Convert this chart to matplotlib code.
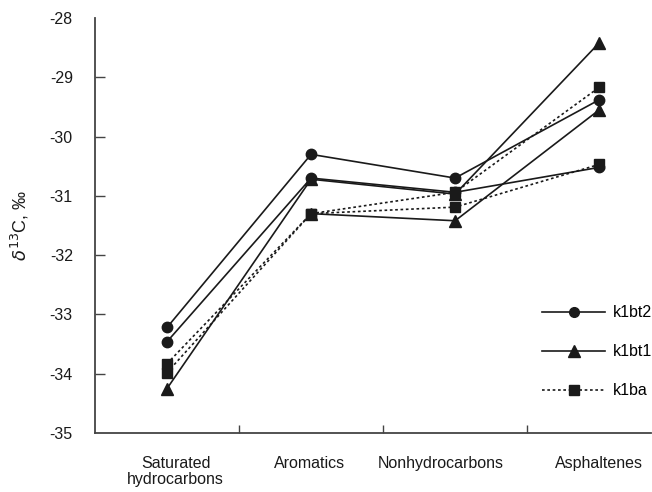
import numpy as np
import matplotlib
matplotlib.use("Agg")
import matplotlib.pyplot as plt
from matplotlib.lines import Line2D

plt.rcParams['font.family'] = ['Liberation Sans', 'DejaVu Sans']
plt.rcParams['mathtext.fontset'] = 'dejavusans'

categories = ['Saturated\nhydrocarbons', 'Aromatics', 'Nonhydrocarbons', 'Asphaltenes']

# two samples per group, NaN where the point is not plotted
k1bt2_a = [-33.22, -30.30, -30.70, -29.38]
k1bt2_b = [-33.46, -30.70, -30.94, -30.52]
k1bt1_a = [-34.25, -30.72, -30.97, -28.42]
k1bt1_b = [np.nan, -31.30, -31.42, -29.55]
k1ba_a = [-33.83, -31.30, -30.94, -29.17]
k1ba_b = [-33.98, -31.30, -31.19, -30.47]

yticks = [-35, -34, -33, -32, -31, -30, -29, -28]

INK = '#1a1a1a'
DOTS = (0, (1.6, 1.6))
FS = 11.5

x = np.arange(len(categories))

fig = plt.figure(figsize=(6.52, 4.92), dpi=100)
ax = fig.add_axes([95 / 652, 1 - 433 / 492, 556 / 652, 415 / 492])

style = dict(color=INK, lw=1.2, clip_on=False)
ax.plot(x, k1bt2_a, marker='o', ms=7.5, ls='-', **style)
ax.plot(x, k1bt2_b, marker='o', ms=7.5, ls='-', **style)
ax.plot(x, k1bt1_a, marker='^', ms=9, ls='-', **style)
ax.plot(x, k1bt1_b, marker='^', ms=9, ls='-', **style)
ax.plot(x, k1ba_a, marker='s', ms=7, ls=DOTS, **style)
ax.plot(x, k1ba_b, marker='s', ms=7, ls=DOTS, **style)

ax.set_xlim(-0.5, 3.36)
ax.set_ylim(-35, -28)

for side in ['top', 'right']:
    ax.spines[side].set_visible(False)
for side in ['left', 'bottom']:
    ax.spines[side].set_color('#444444')
    ax.spines[side].set_linewidth(1.3)

ax.set_yticks(yticks)
ax.set_yticklabels([str(v) for v in yticks])
ax.tick_params(axis='y', direction='in', length=7, width=1, color='#444444',
               pad=16, labelsize=FS, labelcolor=INK)
ax.yaxis.get_major_ticks()[-1].tick1line.set_visible(False)
ax.yaxis.get_major_ticks()[0].tick1line.set_visible(False)

ax.set_xticks(x[:-1] + 0.5)
ax.set_xticklabels([])
ax.tick_params(axis='x', direction='in', length=6, width=1, color='#444444')

label_pos = [0.06, 0.99, 1.9, 3.0]
for pos, name in zip(label_pos, categories):
    ax.text(pos, -0.055, name, transform=ax.get_xaxis_transform(),
            ha='center', va='top', fontsize=FS, color=INK, linespacing=1.1)

ax.set_ylabel(r'$\delta^{13}$C, ‰', fontsize=13, color=INK)
ax.yaxis.set_label_coords(-0.115, 0.5)

handles = [
    Line2D([], [], color=INK, lw=1.2, marker='o', ms=7),
    Line2D([], [], color=INK, lw=1.2, marker='^', ms=9),
    Line2D([], [], color=INK, lw=1.2, marker='s', ms=7, ls=DOTS),
]
ax.legend(handles, ['k1bt2', 'k1bt1', 'k1ba'], loc='upper left',
          bbox_to_anchor=(528 / 652, 1 - 291 / 492), bbox_transform=fig.transFigure,
          frameon=False, handlelength=3.9, labelspacing=1.5, handletextpad=0.5,
          fontsize=FS)

fig.savefig('out.png', dpi=100)
